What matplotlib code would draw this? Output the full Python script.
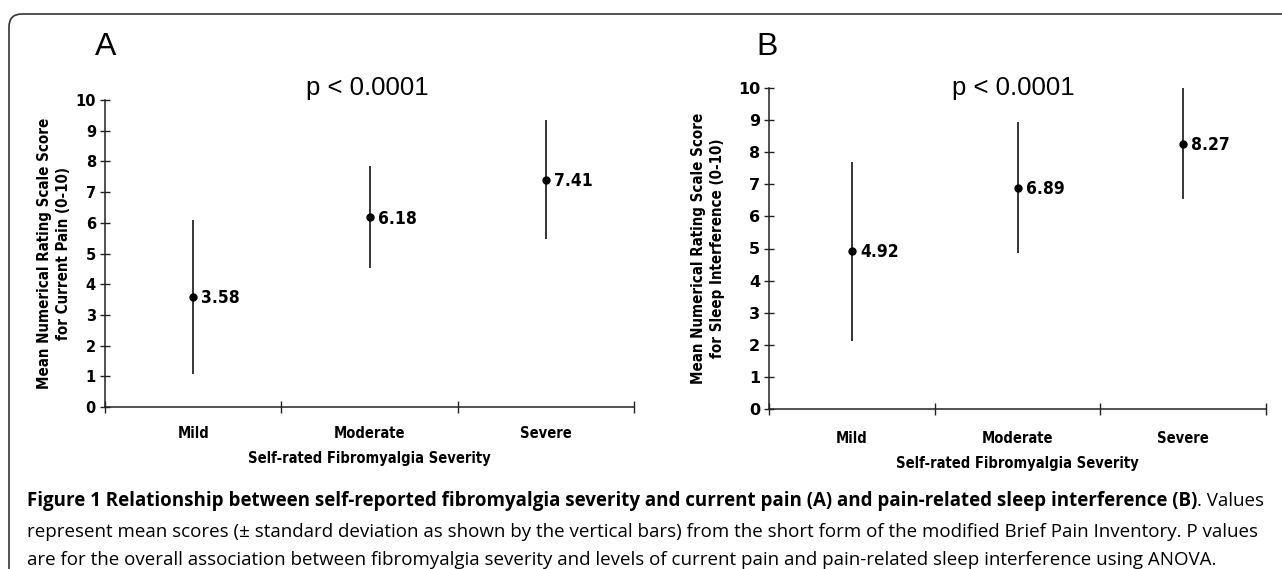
import matplotlib
matplotlib.use("Agg")
import matplotlib.pyplot as plt
from matplotlib.patches import FancyBboxPatch

# values
categories = ["Mild", "Moderate", "Severe"]
pain_means = [3.58, 6.18, 7.41]
pain_sd = [2.52, 1.66, 1.94]
sleep_means = [4.92, 6.89, 8.27]
sleep_sd = [2.79, 2.04, 1.74]
y_ticks = list(range(0, 11))

NARROW = ['DejaVu Sans']
NUMS = ['DejaVu Sans']
ARIAL = ['Liberation Sans', 'DejaVu Sans']
CAPTION = ['Open Sans', 'DejaVu Sans']
COND = 'condensed'

W, H = 1282, 569
fig = plt.figure(figsize=(W / 100, H / 100), dpi=100)

# rounded frame running off the right and bottom edges
frame = FancyBboxPatch((0.09, -1.0), 13.5, 5.69 - 0.14 + 1.0,
                       boxstyle="round,pad=0,rounding_size=0.13",
                       transform=fig.dpi_scale_trans, fill=False,
                       edgecolor='#333333', linewidth=1.2)
fig.patches.append(frame)


def draw_panel(ax, means, sds, ylabel, tick_size, label_pad, ylabel_pad):
    xs = [i + 0.5 for i in range(len(categories))]
    ax.errorbar(xs, means, yerr=sds, fmt='o', color='black', ms=5,
                elinewidth=1.1, capsize=0, clip_on=False)
    for x, m in zip(xs, means):
        ax.annotate(f"{m:.2f}", (x, m), xytext=(6, -1), textcoords='offset points',
                    va='center', ha='left', fontsize=12.5, fontweight='bold',
                    family=NARROW, fontstretch=COND)
    ax.set_xlim(0, 3)
    ax.set_ylim(0, 10)
    for s in ['top', 'right']:
        ax.spines[s].set_visible(False)
    for s in ['left', 'bottom']:
        ax.spines[s].set_color('#222222')
        ax.spines[s].set_linewidth(1.1)
    ax.set_yticks(y_ticks)
    ax.set_yticklabels([str(v) for v in y_ticks], fontsize=tick_size,
                       fontweight='bold', family=NUMS)
    ax.tick_params(axis='y', direction='inout', length=7, width=1.0,
                   pad=3, color='#222222')
    ax.set_xticks([0, 1, 2, 3])
    ax.set_xticklabels([])
    ax.tick_params(axis='x', which='major', direction='inout', length=8,
                   width=1.0, color='#222222')
    ax.set_xticks(xs, minor=True)
    ax.set_xticklabels(categories, minor=True, fontsize=10.5, fontweight='bold',
                       family=NARROW, fontstretch=COND)
    ax.tick_params(axis='x', which='minor', length=0, pad=label_pad)
    ax.set_xlabel("Self-rated Fibromyalgia Severity", fontsize=10.5,
                  fontweight='bold', family=NARROW, fontstretch=COND, labelpad=7)
    ax.set_ylabel(ylabel, fontsize=10.8, fontweight='bold', family=NARROW,
                  fontstretch=COND, labelpad=ylabel_pad, linespacing=1.35)
    ax.text(0.5, 1.04, "p < 0.0001", transform=ax.transAxes, ha='center',
            va='center', fontsize=18.5, family=ARIAL)


ax_a = fig.add_axes([105 / W, 1 - 407 / H, 529 / W, 307 / H])
draw_panel(ax_a, pain_means, pain_sd,
           "Mean Numerical Rating Scale Score\nfor Current Pain (0-10)", 10.5, 14, 3)
ax_a.texts[-1].set_position((0.496, (407 - 88) / 307))

ax_b = fig.add_axes([769 / W, 1 - 409 / H, 497 / W, 321 / H])
draw_panel(ax_b, sleep_means, sleep_sd,
           "Mean Numerical Rating Scale Score\nfor Sleep Interference (0-10)", 11.5, 16, 9)
ax_b.texts[-1].set_position((0.492, (409 - 88) / 321))

fig.text(106 / W, 1 - 47 / H, "A", ha='center', va='center', fontsize=23, family=ARIAL)
fig.text(767 / W, 1 - 47 / H, "B", ha='center', va='center', fontsize=23, family=ARIAL)

# caption
cap_size = 13.5
t1 = fig.text(27 / W, 1 - 501 / H,
              "Figure 1 Relationship between self-reported fibromyalgia severity and current pain (A) "
              "and pain-related sleep interference (B)",
              ha='left', va='center', fontsize=cap_size, fontweight='bold', family=CAPTION)
renderer = fig.canvas.get_renderer()
bb = t1.get_window_extent(renderer)
fig.text(bb.x1 / W, 1 - 501 / H, ". Values", ha='left', va='center',
         fontsize=cap_size, family=CAPTION)
fig.text(27 / W, 1 - 532 / H,
         "represent mean scores (\u00b1 standard deviation as shown by the vertical bars) from the short "
         "form of the modified Brief Pain Inventory. P values",
         ha='left', va='center', fontsize=cap_size, family=CAPTION)
fig.text(27 / W, 1 - 560 / H,
         "are for the overall association between fibromyalgia severity and levels of current pain "
         "and pain-related sleep interference using ANOVA.",
         ha='left', va='center', fontsize=cap_size, family=CAPTION)

fig.savefig("out.png", dpi=100)
